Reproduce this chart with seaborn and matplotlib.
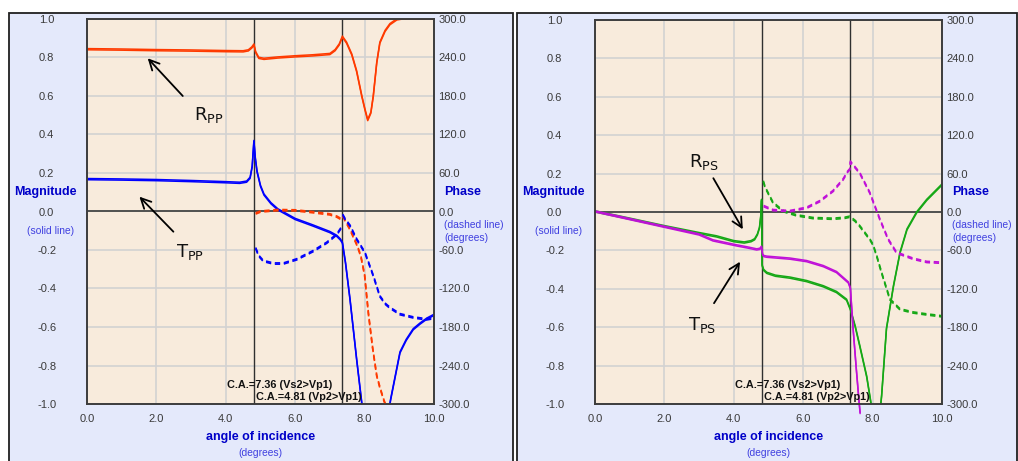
import matplotlib
matplotlib.use("Agg")
import matplotlib.pyplot as plt
from matplotlib.patches import Rectangle
from matplotlib.transforms import offset_copy
import pandas as pd
import seaborn as sns

# ---------------- P-wave incidence: PP reflection / transmission ----------------
rpp_angle = [0.0, 1.0, 2.0, 3.0, 4.0, 4.5, 4.65, 4.75, 4.81, 4.86, 4.95, 5.1, 5.5, 6.0, 6.5,
             7.0, 7.15, 7.27, 7.36, 7.48, 7.63, 7.77, 7.92, 8.01, 8.09, 8.18, 8.25, 8.35,
             8.44, 8.59, 8.73, 8.93, 9.1, 10.0]
rpp_mag = [0.840, 0.838, 0.835, 0.833, 0.830, 0.829, 0.834, 0.849, 0.864, 0.825, 0.795, 0.790,
           0.797, 0.803, 0.808, 0.815, 0.835, 0.865, 0.905, 0.874, 0.813, 0.726, 0.596, 0.527,
           0.472, 0.510, 0.596, 0.770, 0.874, 0.935, 0.970, 0.995, 1.0, 1.0]

tpp_angle = [0.0, 1.0, 2.0, 3.0, 4.0, 4.4, 4.6, 4.7, 4.76, 4.81, 4.85, 4.9, 5.0, 5.1, 5.3, 5.5,
             6.0, 6.5, 7.0, 7.2, 7.3, 7.36, 7.45, 7.58, 7.77, 7.92, 8.1, 8.35, 8.6, 8.75, 9.02,
             9.2, 9.4, 9.6, 9.79, 10.0]
tpp_mag = [0.165, 0.163, 0.160, 0.155, 0.149, 0.146, 0.152, 0.172, 0.230, 0.363, 0.275, 0.205,
           0.130, 0.085, 0.040, 0.008, -0.042, -0.075, -0.110, -0.130, -0.148, -0.165, -0.270,
           -0.460, -0.770, -1.000, -1.200, -1.300, -1.150, -0.980, -0.735, -0.670, -0.615,
           -0.585, -0.560, -0.540]

rpp_phase_angle_a = [4.86, 5.0, 5.5, 6.0, 6.5, 7.0, 7.2, 7.33]
rpp_phase_a = [-4.0, -1.0, 1.3, 0.8, -2.0, -5.4, -9.0, -13.0]
rpp_phase_angle_b = [7.37, 7.45, 7.58, 7.77, 7.89, 8.0, 8.11, 8.23, 8.35, 8.44, 8.56, 8.7]
rpp_phase_b = [-8.0, -16.0, -29.0, -52.0, -70.0, -100.0, -160.0, -213.0, -257.0, -275.0,
               -296.0, -315.0]

tpp_phase_angle_a = [4.86, 4.95, 5.08, 5.37, 5.66, 6.04, 6.52, 6.91, 7.2, 7.33]
tpp_phase_a = [-58.0, -70.0, -78.0, -82.0, -82.0, -75.6, -62.6, -49.6, -36.6, -26.0]
tpp_phase_angle_b = [7.37, 7.44, 7.58, 7.77, 8.01, 8.25, 8.44, 8.6, 8.73, 9.02, 9.4, 9.79, 10.0]
tpp_phase_b = [-6.0, -13.0, -23.0, -44.0, -65.0, -101.0, -133.0, -145.0, -151.0, -161.0,
               -166.0, -169.0, -167.0]

# ---------------- P-wave incidence: converted PS reflection / transmission ----------------
rps_angle = [0.0, 1.0, 2.0, 3.0, 3.5, 4.0, 4.3, 4.5, 4.6, 4.68, 4.74, 4.78, 4.80, 4.815, 4.86,
             4.95, 5.2, 5.62, 6.1, 6.58, 6.96, 7.25, 7.36, 7.5, 7.63, 7.83, 7.95, 8.1, 8.26,
             8.4, 8.6, 8.79, 8.99, 9.27, 9.56, 10.0]
rps_mag = [0.0, -0.038, -0.077, -0.113, -0.130, -0.155, -0.162, -0.155, -0.145, -0.120, -0.085,
           -0.020, 0.060, -0.280, -0.305, -0.320, -0.335, -0.345, -0.363, -0.390, -0.420,
           -0.460, -0.510, -0.600, -0.700, -0.860, -0.995, -1.250, -0.960, -0.610, -0.390,
           -0.215, -0.094, -0.005, 0.060, 0.140]

tps_angle = [0.0, 1.0, 2.0, 3.0, 3.4, 4.08, 4.4, 4.66, 4.75, 4.80, 4.83, 4.87, 4.95, 5.62, 6.1,
             6.58, 6.96, 7.2, 7.3, 7.36, 7.44, 7.53, 7.6, 7.64]
tps_mag = [0.0, -0.040, -0.080, -0.120, -0.151, -0.177, -0.188, -0.198, -0.195, -0.184, -0.225,
           -0.233, -0.236, -0.246, -0.259, -0.285, -0.316, -0.354, -0.370, -0.400, -0.615,
           -0.820, -0.970, -1.050]

rps_phase_angle = [4.85, 4.9, 5.13, 5.42, 5.8, 6.28, 6.86, 7.2, 7.34, 7.5, 7.63, 7.92, 8.01,
                   8.11, 8.2, 8.3, 8.5, 8.79, 9.17, 9.56, 9.94, 10.0]
rps_phase = [47.0, 38.0, 13.6, 0.5, -6.0, -10.4, -11.5, -10.0, -8.3, -15.0, -23.0, -43.7, -52.0,
             -68.0, -85.0, -103.0, -137.5, -153.0, -158.0, -161.0, -163.5, -164.0]

tps_phase_angle = [4.86, 5.13, 5.62, 6.1, 6.48, 6.86, 7.15, 7.28, 7.345, 7.36, 7.63, 7.92, 8.21,
                   8.45, 8.69, 9.17, 9.56, 9.92, 10.0]
tps_phase = [8.3, 2.0, 0.5, 5.7, 16.0, 31.8, 50.0, 62.0, 66.0, 77.6, 60.0, 29.0, -12.5, -43.7,
             -64.5, -74.0, -79.0, -80.0, -80.0]

# critical angles (degrees)
crit_angles = [4.81, 7.36]
crit_labels = ["C.A.=7.36 (Vs2>Vp1)", "C.A.=4.81 (Vp2>Vp1)"]

x_ticks = [0.0, 2.0, 4.0, 6.0, 8.0, 10.0]
mag_ticks = [-1.0, -0.8, -0.6, -0.4, -0.2, 0.0, 0.2, 0.4, 0.6, 0.8, 1.0]
phase_ticks = [-300, -240, -180, -120, -60, 0, 60, 120, 180, 240, 300]

# ---------------- style ----------------
sns.set_style("white")
plt.rcParams["font.family"] = ["Liberation Sans", "DejaVu Sans"]
plt.rcParams["mathtext.fontset"] = "dejavusans"

W, H = 1018, 461
PANEL_BG = "#E4E9FB"
PLOT_BG = "#F8EBDC"
TICK_COLOR = "#3a3a3a"
TITLE_BLUE = "#0000C8"
NOTE_BLUE = "#4040E0"
C_RPP, C_TPP = "#FF3A00", "#0000FF"
C_RPS, C_TPS = "#16A816", "#C010D8"
DASH = (0, (3.2, 2.2))

fig = plt.figure(figsize=(W / 100, H / 100), dpi=100)


def px_x(px):
    return px / W


def px_y(py):
    return 1 - py / H


# panel frames
for x0, x1 in [(9, 513), (517, 1017)]:
    fig.add_artist(Rectangle((px_x(x0), px_y(H + 5)), px_x(x1 - x0), (H + 5 - 13) / H,
                             transform=fig.transFigure, facecolor=PANEL_BG,
                             edgecolor="#202020", lw=1.3, zorder=-1))


def trace(ax, x, y, color, lw=1.1, linestyle="-", clip=True):
    """Draw a curve twice, the second copy nudged up one pixel (heavier on flat parts)."""
    df = pd.DataFrame({"angle": x, "value": y})
    for dy in (0.0, 1.2):
        tr = offset_copy(ax.transData, fig=fig, x=0, y=dy, units="dots")
        sns.lineplot(data=df, x="angle", y="value", ax=ax, color=color, lw=lw,
                     linestyle=linestyle, legend=False, sort=False, estimator=None,
                     transform=tr, clip_on=clip)


def make_panel(left_px, top_px):
    right_px = left_px + 347
    bottom_px = 404
    ax = fig.add_axes([px_x(left_px), px_y(bottom_px), (right_px - left_px) / W,
                       (bottom_px - top_px) / H])
    ax.set_facecolor(PLOT_BG)
    ax.set_xlim(0, 10)
    ax.set_ylim(-1, 1)
    ax2 = ax.twinx()
    ax2.set_ylim(-300, 300)

    ax.set_xticks(x_ticks)
    ax.set_xticklabels([f"{v:.1f}" for v in x_ticks])
    ax.set_yticks(mag_ticks)
    ax.set_yticklabels([f"{v:.1f}" for v in mag_ticks])
    ax2.set_yticks(phase_ticks)
    ax2.set_yticklabels([f"{v:.1f}" for v in phase_ticks])

    ax.tick_params(axis="y", length=0, pad=29, labelsize=8, labelcolor=TICK_COLOR)
    for lab in ax.get_yticklabels():
        lab.set_horizontalalignment("center")
    ax.tick_params(axis="x", length=0, pad=7, labelsize=8, labelcolor=TICK_COLOR)
    ax2.tick_params(axis="y", length=0, pad=3, labelsize=8, labelcolor=TICK_COLOR)

    ax.grid(True, color="#D2D2D2", lw=1.2)
    ax.set_axisbelow(True)
    ax2.grid(False)
    for a in (ax, ax2):
        for s in a.spines.values():
            s.set_color("#3c3c3c")
            s.set_linewidth(1.2)

    ax.axhline(0, color="#3a3a3a", lw=1.2, zorder=1.5)
    for ca in crit_angles:
        ax.axvline(ca, color="#303030", lw=1.0, zorder=1.5)

    # critical angle notes
    ax.text(crit_angles[1] - 0.30, -0.90, crit_labels[0], ha="right", va="center",
            fontsize=7.8, fontweight="bold", color="#111111", zorder=5)
    ax.text(crit_angles[0] + 0.06, -0.962, crit_labels[1], ha="left", va="center",
            fontsize=7.8, fontweight="bold", color="#111111", zorder=5)

    # axis captions
    cx = (left_px + right_px) / 2
    fig.text(px_x(left_px - 42), px_y(192), "Magnitude", ha="center", va="center",
             fontsize=9, fontweight="bold", color=TITLE_BLUE)
    fig.text(px_x(left_px - 36), px_y(231), "(solid line)", ha="center", va="center",
             fontsize=7.4, color=NOTE_BLUE)
    fig.text(px_x(right_px + 10), px_y(192), "Phase", ha="left", va="center",
             fontsize=9, fontweight="bold", color=TITLE_BLUE)
    fig.text(px_x(right_px + 10), px_y(225), "(dashed line)", ha="left", va="center",
             fontsize=7.4, color=NOTE_BLUE)
    fig.text(px_x(right_px + 10), px_y(238), "(degrees)", ha="left", va="center",
             fontsize=7.4, color=NOTE_BLUE)
    fig.text(px_x(cx), px_y(437), "angle of incidence", ha="center", va="center",
             fontsize=9, fontweight="bold", color=TITLE_BLUE)
    fig.text(px_x(cx), px_y(453), "(degrees)", ha="center", va="center",
             fontsize=7.4, color=NOTE_BLUE)
    return ax, ax2


def finish(ax, ax2):
    for a in (ax, ax2):
        a.set_xlabel("")
        a.set_ylabel("")
    ax.set_xlim(0, 10)
    ax.set_ylim(-1, 1)
    ax2.set_ylim(-300, 300)


def label_arrow(ax, text, text_xy, tail, head):
    ax.text(*text_xy, text, ha="center", va="center", fontsize=13, color="#111111", zorder=6)
    ax.annotate("", xy=head, xytext=tail,
                arrowprops=dict(arrowstyle="->", lw=1.3, color="black",
                                mutation_scale=18, shrinkA=0, shrinkB=0), zorder=6)


# ---------------- left panel: PP ----------------
axL, axL2 = make_panel(87, 19)
trace(axL, rpp_angle, rpp_mag, C_RPP)
trace(axL, tpp_angle, tpp_mag, C_TPP)
trace(axL2, rpp_phase_angle_a, rpp_phase_a, C_RPP, lw=1.2, linestyle=DASH)
trace(axL2, rpp_phase_angle_b, rpp_phase_b, C_RPP, lw=1.2, linestyle=DASH)
trace(axL2, tpp_phase_angle_a, tpp_phase_a, C_TPP, lw=1.2, linestyle=DASH)
trace(axL2, tpp_phase_angle_b, tpp_phase_b, C_TPP, lw=1.2, linestyle=DASH)
finish(axL, axL2)
label_arrow(axL, r"$\mathrm{R_{PP}}$", (3.52, 0.50), (2.76, 0.60), (1.75, 0.796))
label_arrow(axL, r"$\mathrm{T_{PP}}$", (2.97, -0.21), (2.49, -0.105), (1.51, 0.077))

# ---------------- right panel: PS ----------------
axR, axR2 = make_panel(595, 20)
trace(axR, rps_angle, rps_mag, C_RPS)
trace(axR, tps_angle, tps_mag, C_TPS, clip=False)
trace(axR2, rps_phase_angle, rps_phase, C_RPS, lw=1.2, linestyle=DASH)
trace(axR2, tps_phase_angle, tps_phase, C_TPS, lw=1.2, linestyle=DASH)
finish(axR, axR2)
label_arrow(axR, r"$\mathrm{R_{PS}}$", (3.14, 0.26), (3.41, 0.176), (4.26, -0.09))
label_arrow(axR, r"$\mathrm{T_{PS}}$", (3.08, -0.59), (3.43, -0.475), (4.18, -0.259))

fig.savefig("out.png", dpi=100)
